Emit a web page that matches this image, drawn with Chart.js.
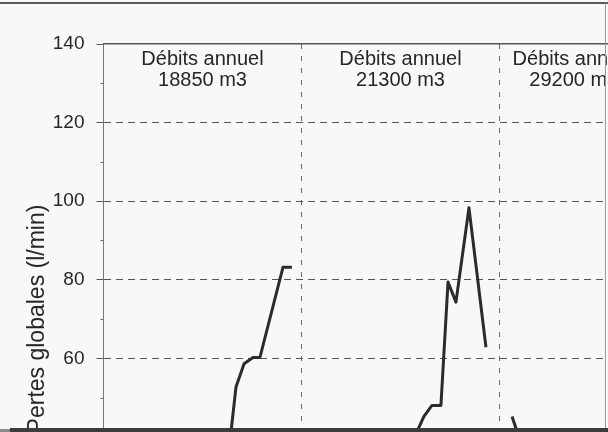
<!DOCTYPE html>
<html>
<head>
<meta charset="utf-8">
<script src="https://cdn.jsdelivr.net/npm/chart.js@4"></script>
<style>
  html, body { margin: 0; padding: 0; background: #f6f8fa; overflow: hidden; }
  #wrap { position: relative; width: 608px; height: 432px; overflow: hidden; }
  #chart { position: absolute; left: 0; top: 0; }
  .edge { position: absolute; }
</style>
</head>
<body>
<div id="wrap">
  <canvas id="chart" width="760" height="640"></canvas>
  <div class="edge" style="left:0;top:2px;width:608px;height:2px;background:#5a5a5a"></div>
  <div class="edge" style="left:605px;top:3px;width:1px;height:429px;background:#9a9a9a"></div>
  <div class="edge" style="left:0;top:429px;width:10px;height:3px;background:#8a8a8a"></div>
  <div class="edge" style="left:10px;top:428px;width:598px;height:4px;background:#3c3c3c"></div>
</div>
<script>
// ================= DATA =================

// x = months since start of first year (12 per year, last year partial)
const year1Months = [7.64, 8.03, 8.52, 9.06, 9.48, 10.88, 11.42];
const year1Values = [38, 52.7, 58.6, 60.2, 60.2, 83.2, 83.2];

const year2Months = [18.64, 19.42, 19.91, 20.45, 20.88, 21.36, 22.15, 23.18];
const year2Values = [38, 45.2, 48.0, 48.0, 79.4, 74.3, 98.3, 62.8];

const year3Months = [24.76, 25.33];
const year3Values = [45.2, 38];

const yearStarts = [0, 12, 24, 33];
const flowTitle = "Débits annuel";
const annualFlows = ["18850 m3", "21300 m3", "29200 m3"];
const yTicks = [0, 20, 40, 60, 80, 100, 120, 140];
const yMinorTicks = [10, 30, 50, 70, 90, 110, 130];

function points(xs, ys) {
  return xs.map((x, i) => ({ x: x, y: ys[i] }));
}

// ================= PLUGINS =================

const minorTicks = {
  id: "minorTicks",
  afterDraw(chart) {
    const ctx = chart.ctx;
    const y = chart.scales.y;
    ctx.save();
    ctx.strokeStyle = "#666";
    ctx.lineWidth = 1;
    yMinorTicks.forEach(v => {
      const py = Math.round(y.getPixelForValue(v)) + 0.5;
      ctx.beginPath();
      ctx.moveTo(y.right - 3, py);
      ctx.lineTo(y.right, py);
      ctx.stroke();
    });
    ctx.restore();
  }
};

const flowLabels = {
  id: "flowLabels",
  afterDraw(chart) {
    const ctx = chart.ctx;
    const x = chart.scales.x;
    const top = chart.chartArea.top;
    ctx.save();
    ctx.fillStyle = "#262626";
    ctx.font = "20px 'Liberation Sans', Arial, sans-serif";
    ctx.textAlign = "center";
    ctx.textBaseline = "middle";
    annualFlows.forEach((flow, i) => {
      const cx = x.getPixelForValue((yearStarts[i] + yearStarts[i + 1]) / 2);
      ctx.fillText(flowTitle, cx, top + 15);
      ctx.fillText(flow, cx, top + 36);
    });
    ctx.restore();
  }
};

// ================= CHART =================

const lineStyle = {
  borderColor: "#2b2b2b",
  borderWidth: 3,
  borderJoinStyle: "round",
  pointRadius: 0,
  tension: 0,
  fill: false
};

const xMax = yearStarts[yearStarts.length - 1];

const ctx = document.getElementById("chart").getContext("2d");
const chart = new Chart(ctx, {
  type: "line",
  data: {
    datasets: [
      Object.assign({ data: points(year1Months, year1Values) }, lineStyle),
      Object.assign({ data: points(year2Months, year2Values) }, lineStyle),
      Object.assign({ data: points(year3Months, year3Values) }, lineStyle)
    ]
  },
  options: {
    responsive: false,
    animation: false,
    layout: { padding: { left: 20, top: 44, right: 112, bottom: 46 } },
    plugins: {
      legend: { display: false },
      tooltip: { enabled: false }
    },
    scales: {
      x: {
        type: "linear",
        min: 0,
        max: xMax,
        afterBuildTicks: s => { s.ticks = yearStarts.map(v => ({ value: v })); },
        afterFit: s => { s.height = 0; },
        ticks: { display: false },
        grid: {
          drawTicks: false,
          color: c => (c.tick && (c.tick.value === 0 || c.tick.value === xMax)) ? "rgba(0,0,0,0)" : "#6a6a6a",
          lineWidth: 1
        },
        border: { display: false, dash: [5, 7] }
      },
      x2: {
        type: "linear",
        position: "top",
        min: 0,
        max: xMax,
        afterFit: s => { s.height = 0; },
        ticks: { display: false },
        grid: { display: false, drawTicks: false },
        border: { display: true, color: "#555", width: 1.5 }
      },
      y: {
        min: 0,
        max: 140,
        afterBuildTicks: s => { s.ticks = yTicks.map(v => ({ value: v })); },
        afterFit: s => { s.width = 83.5; },
        ticks: {
          color: "#262626",
          padding: 12,
          font: { family: "'Liberation Sans', Arial, sans-serif", size: 19 }
        },
        grid: {
          color: c => (c.tick && (c.tick.value === 0 || c.tick.value === 140)) ? "rgba(0,0,0,0)" : "#555",
          tickColor: "#555",
          tickLength: 7,
          lineWidth: 1
        },
        border: { display: true, color: "#777", width: 1, dash: [7, 5] },
        title: {
          display: true,
          text: "Pertes globales (l/min)",
          color: "#262626",
          padding: { top: 4, bottom: 0 },
          font: { family: "'Liberation Sans', Arial, sans-serif", size: 23 }
        }
      }
    }
  },
  plugins: [minorTicks, flowLabels]
});
</script>
</body>
</html>
